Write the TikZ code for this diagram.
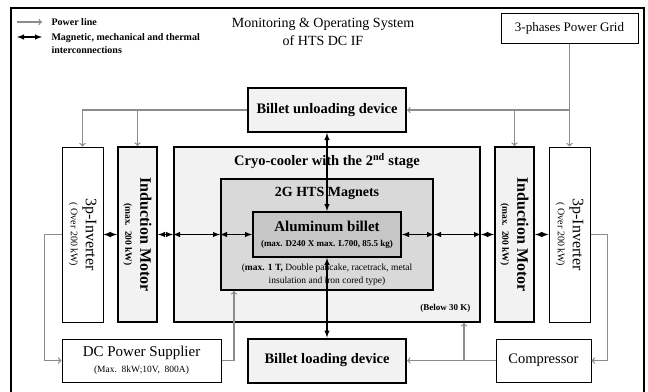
\documentclass[tikz,border=0pt]{standalone}
\usepackage{fontspec}
\setmainfont{Liberation Serif}
\usepackage{tikz}
\usetikzlibrary{arrows,calc}
\definecolor{pline}{HTML}{8C8C8C}
\definecolor{lite}{HTML}{F2F2F2}
\definecolor{magfill}{HTML}{D9D9D9}
\definecolor{billfill}{HTML}{C6C6C6}

\begin{document}
\begin{tikzpicture}[x=1pt,y=-1pt,
  thinbox/.style={draw,line width=1pt,fill=white,inner sep=0pt},
  fatbox/.style={draw,line width=2pt,fill=lite,inner sep=0pt},
  pwr/.style={draw=pline,line width=1.3pt,->},
  link/.style={line width=1.4pt,latex-latex},
  big/.style={font=\fontsize{14.5}{17}\selectfont\bfseries},
  vert/.style={rotate=-90,align=center,font=\fontsize{16}{15}\selectfont}]
\useasboundingbox (0,0) rectangle (648,391);
\draw[line width=1.5pt] (11,400) -- (11,8) -- (644,8) -- (644,400);

% legend and title
\node[anchor=west,font=\fontsize{10}{13}\selectfont\bfseries] (pwrtxt) at (48,22) {Power line};
\node[anchor=north west,align=left,font=\fontsize{10}{13}\selectfont\bfseries] (lnktxt) at (48,30) {Magnetic, mechanical and thermal\\interconnections};
\coordinate (p0) at (17,22);
\coordinate (l0) at (17,37);
\draw[pwr] (p0) -- ++(25,0);
\draw[link] (l0) -- ++(25,0);
\node[align=center,font=\fontsize{14}{18}\selectfont] (title) at (323,32) {Monitoring \& Operating System\\of HTS DC IF};

% boxes
\node[thinbox,minimum width=137,minimum height=30,font=\fontsize{13}{16}\selectfont] (grid) at (569.5,28) {3-phases Power Grid};
\node[fatbox,minimum width=158,minimum height=44,big] (unload) at (327,110) {Billet unloading device};
\node[fatbox,minimum width=158,minimum height=44,big] (load) at (327,360.5) {Billet loading device};
\node[thinbox,minimum width=159,minimum height=43,align=center,font=\fontsize{15}{17}\selectfont] (dcps) at (141.5,360.5) {DC Power Supplier\\[-1pt]{\fontsize{9.5}{11}\selectfont (Max.\ \ 8kW;10V,\ \ 800A)}};
\node[thinbox,minimum width=95,minimum height=43,font=\fontsize{14.5}{17}\selectfont] (comp) at (543.5,360.5) {Compressor};

\node[thinbox,minimum width=41,minimum height=175] (invL) at (82.5,234.5) {};
\node[fatbox,minimum width=39,minimum height=175] (imL) at (137.5,234.5) {};
\node[fatbox,minimum width=306,minimum height=175] (cryo) at (327,234.5) {};
\node[fatbox,fill=magfill,minimum width=212,minimum height=111] (mag) at (327,234.5) {};
\node[fatbox,fill=billfill,minimum width=148,minimum height=45] (billet) at (327,234.5) {};
\node[fatbox,minimum width=39,minimum height=175] (imR) at (514.5,234.5) {};
\node[thinbox,minimum width=41,minimum height=175] (invR) at (569.5,234.5) {};

% texts inside the boxes
\node[vert] at (invL) {3p-Inverter\\{\fontsize{10}{11}\selectfont ( Over 200 kW)}};
\node[vert] at (invR) {3p-Inverter\\{\fontsize{10}{11}\selectfont ( Over 200 kW)}};
\node[vert,font=\fontsize{16}{15}\selectfont\bfseries] at (imL) {Induction Motor\\{\fontsize{9.5}{11}\selectfont (max.\ \ 200 kW)}};
\node[vert,font=\fontsize{16}{15}\selectfont\bfseries] at (imR) {Induction Motor\\{\fontsize{9.5}{11}\selectfont (max.\ \ 200 kW)}};
\node[big,font=\fontsize{14.5}{17}\selectfont\bfseries] (cryotxt) at ([yshift=-15pt]cryo.north) {Cryo-cooler with the 2\textsuperscript{nd} stage};
\node[font=\fontsize{14}{17}\selectfont\bfseries] (magtxt) at ([yshift=-15pt]mag.north) {2G HTS Magnets};
\node[align=center,font=\fontsize{15}{16}\selectfont\bfseries] (billtxt) at (327,235) {Aluminum billet\\[-1pt]{\fontsize{9}{11}\selectfont (max. D240 X max. L700, 85.5 kg)}};
\node[align=center,font=\fontsize{9.5}{13}\selectfont] (magsub) at (327,274.5) {(\textbf{max. 1 T,} Double pancake, racetrack, metal\\insulation and iron cored type)};
\node[anchor=east,font=\fontsize{9}{11}\selectfont\bfseries] (cold) at (474,308) {(Below 30 K)};

% interconnections
\draw[link] (invL) -- (imL);
\draw[link] (imL) -- (cryo.west);
\draw[link] (cryo.west) -- (mag.west);
\draw[link] (mag.west) -- (billet.west);
\draw[link] (billet.east) -- (mag.east);
\draw[link] (mag.east) -- (cryo.east);
\draw[link] (cryo.east) -- (imR);
\draw[link] (imR) -- (invR);
\draw[link] (unload) -- (billet);
\draw[link] (billet) -- (load);

% power lines
\draw[pwr] (grid.south) |- (unload.east);
\draw[pwr] (grid.south) -- (invR.north);
\draw[pwr] (imR.north |- unload.east) -- (imR.north);
\draw[pwr] (unload.west) -| (invL.north);
\draw[pwr] (imL.north |- unload.west) -- (imL.north);
\draw[pwr] (invL.west) -- ++(-17,0) |- (dcps.west);
\draw[pwr] (dcps.east) -| ([xshift=-93pt]mag.south);
\draw[pwr] (comp.west) -- (load.east);
\coordinate (cbr) at (464,360.5);
\draw[pwr] (cbr) -- (cbr |- cryo.south);
\draw[pwr] (invR.east) -- ++(17,0) |- (comp.east);
\end{tikzpicture}
\end{document}
